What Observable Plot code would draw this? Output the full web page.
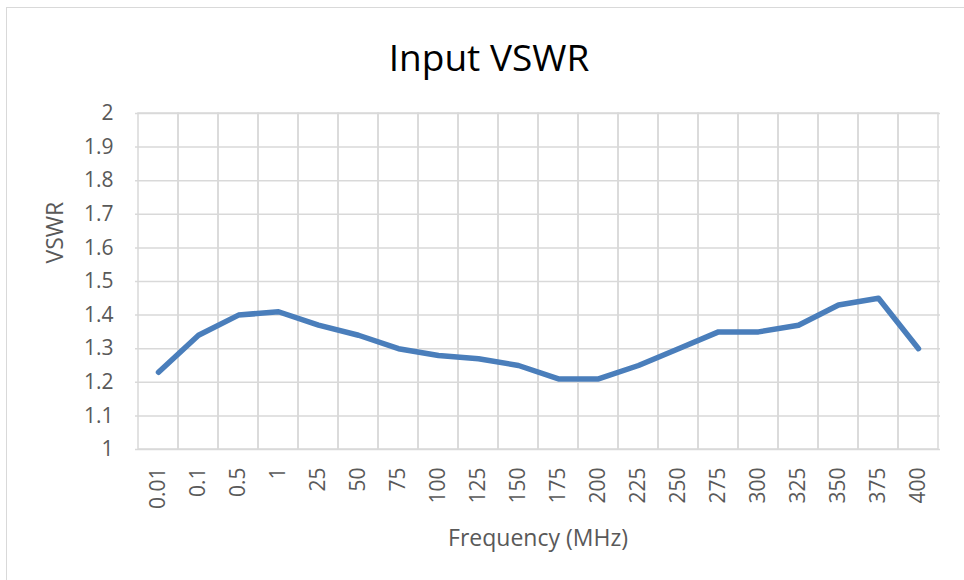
<!DOCTYPE html>
<html>
<head>
<meta charset="utf-8">
<script src="https://cdn.jsdelivr.net/npm/d3@7"></script>
<script src="https://cdn.jsdelivr.net/npm/@observablehq/plot@0.6"></script>
<style>
  html, body { margin: 0; padding: 0; background: #fff; }
  #wrap { position: relative; width: 964px; height: 580px; overflow: hidden; background: #fff; font-family: "Open Sans", sans-serif; }
  #frame { position: absolute; left: 6px; top: 7px; width: 1200px; height: 1200px; border: 1.5px solid #d9d9d9; box-sizing: border-box; }
  #title { position: absolute; left: 0; top: 38px; width: 964px; padding-left: 14px; box-sizing: border-box; text-align: center; font-size: 37px; line-height: 37px; color: #000; }
  #chart { position: absolute; left: 0; top: 95px; }
</style>
</head>
<body>
<div id="wrap">
  <div id="frame"></div>
  <div id="title">Input VSWR</div>
  <div id="chart"></div>
</div>
<script>
const categories = ["0.01","0.1","0.5","1","25","50","75","100","125","150","175","200","225","250","275","300","325","350","375","400"];
const vswr = [1.23,1.34,1.40,1.41,1.37,1.34,1.30,1.28,1.27,1.25,1.21,1.21,1.25,1.30,1.35,1.35,1.37,1.43,1.45,1.30];
const yTicks = [1,1.1,1.2,1.3,1.4,1.5,1.6,1.7,1.8,1.9,2];
const xTitle = "Frequency (MHz)";
const yTitle = "VSWR";

const data = categories.map((c, i) => ({freq: c, vswr: vswr[i]}));
const gray = "#595959";

const chart = Plot.plot({
  width: 964,
  height: 485,
  marginLeft: 135,
  marginRight: 24,
  marginTop: 18,
  marginBottom: 131,
  style: {fontFamily: "'Open Sans', sans-serif", fontSize: "21px", color: gray, background: "transparent", overflow: "visible"},
  x: {type: "band", domain: categories, padding: 0, label: null},
  y: {domain: [1, 2], label: null},
  marks: [
    Plot.ruleY(yTicks, {stroke: "#d9d9d9", strokeWidth: 1.5, strokeOpacity: 1}),
    Plot.barY(categories, {x: d => d, y1: 1, y2: 2, fill: "none", stroke: "#d9d9d9", strokeWidth: 1.5}),
    Plot.axisY(yTicks, {tickSize: 0, tickPadding: 22, tickFormat: d => String(+d.toFixed(1)), fill: gray, fontSize: 21, label: null}),
    Plot.axisX({tickSize: 0, tickRotate: -90, tickPadding: 18, fill: gray, fontSize: 21, label: null}),
    Plot.line(data, {x: "freq", y: "vswr", stroke: "#4a7ebb", strokeWidth: 5.5, strokeLinejoin: "round", strokeLinecap: "round"}),
    Plot.text([xTitle], {frameAnchor: "bottom", text: d => d, dy: 96, fill: gray, fontSize: 23}),
    Plot.text([yTitle], {frameAnchor: "left", text: d => d, rotate: -90, dx: -80, dy: -18, fill: gray, fontSize: 23})
  ]
});
document.getElementById("chart").appendChild(chart);
</script>
</body>
</html>
